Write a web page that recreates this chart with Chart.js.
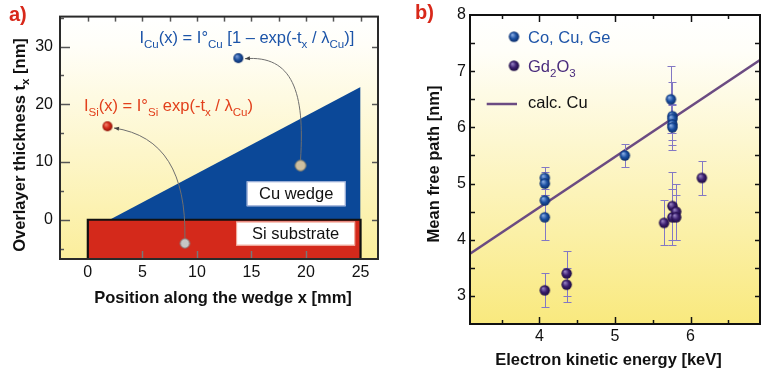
<!DOCTYPE html>
<html><head><meta charset="utf-8">
<script src="https://cdn.jsdelivr.net/npm/chart.js@4"></script>
<style>
html,body{margin:0;padding:0;background:#fff;}
#wrap{position:relative;width:768px;height:374px;overflow:hidden;}
#ca{position:absolute;left:0;top:0;}
#cb{position:absolute;left:384px;top:0;}
</style></head><body>
<div id="wrap"><canvas id="ca" width="384" height="374"></canvas><canvas id="cb" width="384" height="374"></canvas></div>
<script>
// ---------- Panel a data ----------
const wedgeX = [2, 25];          // mm
const wedgeT = [0, 23];          // nm
const substrateX = [0, 25];      // mm
const substrateTop = [0, 0];     // nm
const markerX = [1.8, 13.8, 19.5, 8.9];
const markerT = [16.2, 28.0, 9.4, -4.1];
const ticksXA = [0, 5, 10, 15, 20, 25];
const ticksYA = [0, 10, 20, 30];

// ---------- Panel b data ----------
const energyCu = [4.07, 4.07, 4.07, 4.07, 5.13, 5.74, 5.76, 5.76, 5.76, 5.76];
const mfpCu    = [5.1, 5.0, 4.7, 4.4, 5.5, 6.5, 6.2, 6.15, 6.05, 6.0];
const errCu    = [0.2, 0.2, 0.3, 0.4, 0.2, 0.6, 0.6, 0.25, 0.37, 0.22];
const energyGd = [4.07, 4.36, 4.36, 5.65, 5.76, 5.76, 5.81, 5.81, 6.15];
const mfpGd    = [3.1, 3.4, 3.2, 4.3, 4.6, 4.4, 4.5, 4.4, 5.1];
const errGd    = [0.3, 0.4, 0.3, 0.4, 0.6, 0.5, 0.5, 0.4, 0.3];
const calcE    = [3.08, 6.92];
const calcMfp  = [3.75, 7.2];
const ticksXB = [4, 5, 6];
const ticksYB = [3, 4, 5, 6, 7, 8];

const FONT = '"Liberation Sans", Arial, Helvetica, sans-serif';
const X_MIN_A = -2.55, X_MAX_A = 26.6, Y_MIN_A = -6.8, Y_MAX_A = 35.2;
const X_MIN_B = 3.08, X_MAX_B = 6.92, Y_MIN_B = 2.5, Y_MAX_B = 8;

function sphere(r, light, base, dark, flat) {
  const c = document.createElement('canvas');
  const s = Math.ceil(r * 2 + 2);
  c.width = c.height = s;
  const g = c.getContext('2d');
  const cx = s / 2, cy = s / 2;
  if (flat) {
    g.fillStyle = base; g.beginPath(); g.arc(cx, cy, r - 0.5, 0, Math.PI * 2); g.fill();
    g.strokeStyle = dark; g.lineWidth = 1; g.stroke();
  } else {
    const grd = g.createRadialGradient(cx - r * 0.35, cy - r * 0.4, r * 0.05, cx, cy, r);
    grd.addColorStop(0, light); grd.addColorStop(0.55, base); grd.addColorStop(1, dark);
    g.fillStyle = grd; g.beginPath(); g.arc(cx, cy, r, 0, Math.PI * 2); g.fill();
  }
  return c;
}
const ballBlue = sphere(5.2, '#8fb0e6', '#1d52a3', '#0b2d6a');
const ballPurple = sphere(5.2, '#9a86c6', '#3c2070', '#1c0b40');
const ballRed = sphere(5, '#f08a70', '#d42a1a', '#8a1408');
const ballBlueA = sphere(5, '#7fa0da', '#1c4f9c', '#0b2d6a');
const ballTan = sphere(5.8, '', '#cdbfa0', '#8f8468', true);
const ballGray = sphere(5.2, '', '#c6c6c6', '#7d7d7d', true);

function drawRich(ctx, segs, x, y, size, color, weight, align) {
  const sub = size * 0.7;
  let w = 0;
  const parts = segs.map(([t, m]) => {
    const sz = m ? sub : size;
    ctx.font = `${weight} ${sz}px ${FONT}`;
    const tw = ctx.measureText(t).width;
    w += tw;
    return { t, m, sz, tw };
  });
  let cx = align === 'center' ? x - w / 2 : x;
  ctx.fillStyle = color; ctx.textAlign = 'left'; ctx.textBaseline = 'alphabetic';
  for (const p of parts) {
    ctx.font = `${weight} ${p.sz}px ${FONT}`;
    ctx.fillText(p.t, cx, y + (p.m === 1 ? size * 0.3 : 0));
    cx += p.tw;
  }
}

function bgGradient(chart, bottomColor) {
  const { ctx, chartArea: a } = chart;
  const g = ctx.createLinearGradient(0, a.top, 0, a.bottom);
  g.addColorStop(0, '#ffffff');
  g.addColorStop(0.12, '#fffef8');
  g.addColorStop(1, bottomColor);
  ctx.save(); ctx.fillStyle = g;
  ctx.fillRect(a.left, a.top, a.right - a.left, a.bottom - a.top);
  ctx.restore();
}

function hTicks(ctx, xs, sx, yEdge, len, dir, color, w) {
  ctx.strokeStyle = color; ctx.lineWidth = w || 1.5;
  for (const v of xs) {
    const px = Math.round(sx.getPixelForValue(v)) + 0.5;
    ctx.beginPath(); ctx.moveTo(px, yEdge); ctx.lineTo(px, yEdge + dir * len); ctx.stroke();
  }
}
function vTicks(ctx, ys, sy, xEdge, len, dir, color, w) {
  ctx.strokeStyle = color; ctx.lineWidth = w || 1.5;
  for (const v of ys) {
    const py = Math.round(sy.getPixelForValue(v)) + 0.5;
    ctx.beginPath(); ctx.moveTo(xEdge, py); ctx.lineTo(xEdge + dir * len, py); ctx.stroke();
  }
}

// ---------- Panel a ----------
function arrowCurve(ctx, sx, sy, p0, c1, c2, p3) {
  const P = (p) => [sx.getPixelForValue(p[0]), sy.getPixelForValue(p[1])];
  const a = P(p0), b = P(c1), c = P(c2), d = P(p3);
  ctx.strokeStyle = '#6f6f6f'; ctx.lineWidth = 1;
  ctx.beginPath(); ctx.moveTo(a[0], a[1]); ctx.bezierCurveTo(b[0], b[1], c[0], c[1], d[0], d[1]); ctx.stroke();
  const ang = Math.atan2(d[1] - c[1], d[0] - c[0]);
  const L = 5, H = 2;
  ctx.fillStyle = '#444';
  ctx.beginPath();
  ctx.moveTo(d[0], d[1]);
  ctx.lineTo(d[0] - L * Math.cos(ang) + H * Math.sin(ang), d[1] - L * Math.sin(ang) - H * Math.cos(ang));
  ctx.lineTo(d[0] - L * Math.cos(ang) - H * Math.sin(ang), d[1] - L * Math.sin(ang) + H * Math.cos(ang));
  ctx.closePath(); ctx.fill();
}

const panelA = {
  id: 'panelA',
  beforeDraw(chart) { bgGradient(chart, '#fbee9c'); },
  afterDatasetDraw(chart, args) {
    if (args.index !== 1) return;
    const { ctx, scales: { x, y } } = chart;
    ctx.save();
    arrowCurve(ctx, x, y, [markerX[3], markerT[3] + 0.9], [9.0, 8.0], [7.0, 14.6], [markerX[0] + 0.6, markerT[0] - 0.3]);
    arrowCurve(ctx, x, y, [markerX[2], markerT[2] + 1.0], [19.9, 22], [18.8, 28.6], [markerX[1] + 0.6, markerT[1] - 0.1]);
    ctx.restore();
  },
  afterDraw(chart) {
    const { ctx, chartArea: a, scales: { x, y } } = chart;
    ctx.save();
    // label boxes
    const box = (cxv, cyv, w, h, txt, edge) => {
      const cx = x.getPixelForValue(cxv), cy = y.getPixelForValue(cyv);
      ctx.fillStyle = '#ffffff';
      ctx.fillRect(cx - w / 2, cy - h / 2, w, h);
      if (edge) { ctx.strokeStyle = edge; ctx.lineWidth = 1; ctx.strokeRect(cx - w / 2 + 0.5, cy - h / 2 + 0.5, w - 1, h - 1); }
      ctx.fillStyle = '#111'; ctx.font = `16.5px ${FONT}`; ctx.textAlign = 'center'; ctx.textBaseline = 'middle';
      ctx.fillText(txt, cx, cy + 1);
    };
    box(19.1, 4.5, 99, 25, 'Cu wedge', '#8aa0d0');
    box(19.05, -2.4, 119, 24, 'Si substrate', '#f0a090');
    // equations
    drawRich(ctx, [['I', 0], ['Cu', 1], ['(x) = I°', 0], ['Cu', 1], [' [1 – exp(-t', 0], ['x', 1], [' / λ', 0], ['Cu', 1], [')]', 0]],
      x.getPixelForValue(4.73), y.getPixelForValue(30.55), 16.5, '#1c54a8', 'normal', 'left');
    drawRich(ctx, [['I', 0], ['Si', 1], ['(x) = I°', 0], ['Si', 1], [' exp(-t', 0], ['x', 1], [' / λ', 0], ['Cu', 1], [')', 0]],
      x.getPixelForValue(-0.36), y.getPixelForValue(18.77), 16.5, '#e2401c', 'normal', 'left');
    // ticks
    const minorY = ticksYA.map(v => v - 5).concat([ticksYA[ticksYA.length - 1] + 5]);
    vTicks(ctx, ticksYA, y, a.left, 10, 1, '#555');
    vTicks(ctx, minorY.filter(v => v > Y_MIN_A && v < Y_MAX_A), y, a.left, 4, 1, '#555');
    vTicks(ctx, ticksYA, y, a.right, 6, -1, '#555');
    const topT = [];
    for (const v of ticksXA) { topT.push(v); topT.push(v + 2.5); }
    hTicks(ctx, topT.filter(v => v < X_MAX_A), x, a.top, 5, 1, '#555');
    hTicks(ctx, ticksXA.slice(1, -1), x, a.bottom, 8, -1, '#777');
    // frame
    ctx.strokeStyle = '#2a2a2a'; ctx.lineWidth = 2;
    ctx.strokeRect(a.left, a.top, a.right - a.left, a.bottom - a.top);
    // titles
    drawRich(ctx, [['Position along the wedge x [mm]', 0]], 223, 302.7, 16.5, '#111', 'bold', 'center');
    ctx.save();
    ctx.translate(24.5, 145); ctx.rotate(-Math.PI / 2);
    drawRich(ctx, [['Overlayer thickness t', 0], ['x', 1], [' [nm]', 0]], 0, 0, 16.5, '#111', 'bold', 'center');
    ctx.restore();
    ctx.fillStyle = '#d8281a'; ctx.font = `bold 20px ${FONT}`; ctx.textAlign = 'left'; ctx.textBaseline = 'alphabetic';
    ctx.fillText('a)', 9, 21);
    ctx.restore();
  }
};

new Chart(document.getElementById('ca'), {
  type: 'line',
  data: {
    datasets: [
      {
        type: 'scatter',
        data: markerX.map((v, i) => ({ x: v, y: markerT[i] })),
        pointStyle: [ballRed, ballBlueA, ballTan, ballGray],
        pointRadius: 5, showLine: false
      },
      {
        data: [{ x: substrateX[0], y: Y_MIN_A }, { x: substrateX[0], y: substrateTop[0] },
               { x: substrateX[1], y: substrateTop[1] }, { x: substrateX[1], y: Y_MIN_A }],
        borderColor: '#111', borderWidth: 2.2, backgroundColor: '#d4291b',
        fill: 'start', pointRadius: 0, tension: 0
      },
      {
        data: wedgeX.map((v, i) => ({ x: v, y: wedgeT[i] })),
        borderWidth: 0, borderColor: 'rgba(0,0,0,0)', backgroundColor: '#0b4898',
        fill: { value: 0 }, pointRadius: 0, tension: 0
      }
    ]
  },
  options: {
    responsive: false, animation: false, events: [],
    layout: { padding: { top: 13, right: 3, left: 0, bottom: 0 } },
    plugins: { legend: { display: false }, tooltip: { enabled: false } },
    scales: {
      x: {
        type: 'linear', min: X_MIN_A, max: X_MAX_A,
        grid: { display: false, drawTicks: false }, border: { display: false },
        afterBuildTicks: s => { s.ticks = ticksXA.map(v => ({ value: v })); },
        afterFit: s => { s.height = 115; },
        ticks: { font: { family: FONT, size: 16 }, color: '#111', padding: 4, maxRotation: 0, autoSkip: false }
      },
      y: {
        type: 'linear', min: Y_MIN_A, max: Y_MAX_A,
        grid: { display: false, drawTicks: false }, border: { display: false },
        afterBuildTicks: s => { s.ticks = ticksYA.map(v => ({ value: v })); },
        afterFit: s => { s.width = 60; },
        ticks: { font: { family: FONT, size: 16 }, color: '#111', padding: 7 }
      }
    }
  },
  plugins: [panelA]
});

// ---------- Panel b ----------
const panelB = {
  id: 'panelB',
  beforeDraw(chart) { bgGradient(chart, '#f9e97e'); },
  afterDatasetDraw(chart, args) {
    if (args.index !== 2) return;
    const { ctx, scales: { x, y } } = chart;
    ctx.save();
    ctx.strokeStyle = '#8378c4'; ctx.lineWidth = 1;
    const bars = (es, ms, errs) => {
      es.forEach((e, i) => {
        const px = Math.round(x.getPixelForValue(e)) + 0.5;
        const top = Math.round(y.getPixelForValue(ms[i] + errs[i])) + 0.5;
        const bot = Math.round(y.getPixelForValue(ms[i] - errs[i])) + 0.5;
        ctx.beginPath();
        ctx.moveTo(px, top); ctx.lineTo(px, bot);
        ctx.moveTo(px - 4, top); ctx.lineTo(px + 4, top);
        ctx.moveTo(px - 4, bot); ctx.lineTo(px + 4, bot);
        ctx.stroke();
      });
    };
    bars(energyCu, mfpCu, errCu);
    bars(energyGd, mfpGd, errGd);
    ctx.restore();
  },
  afterDraw(chart) {
    const { ctx, chartArea: a, scales: { x, y } } = chart;
    ctx.save();
    // ticks
    const minorX = [];
    for (let v = Math.ceil(X_MIN_B * 2) / 2; v < X_MAX_B; v += 0.5) if (!ticksXB.includes(v)) minorX.push(v);
    hTicks(ctx, ticksXB, x, a.bottom, 7, -1, '#111');
    hTicks(ctx, minorX, x, a.bottom, 4, -1, '#111');
    hTicks(ctx, ticksXB, x, a.top, 7, 1, '#111');
    hTicks(ctx, minorX, x, a.top, 4, 1, '#111');
    const allY = [];
    for (let v = Y_MIN_B + 0.5; v < Y_MAX_B; v += 0.5) allY.push(v);
    vTicks(ctx, allY, y, a.left, 5, 1, '#111');
    vTicks(ctx, allY, y, a.right, 5, -1, '#111');
    // frame
    ctx.strokeStyle = '#111'; ctx.lineWidth = 2;
    ctx.strokeRect(a.left, a.top, a.right - a.left, a.bottom - a.top);
    // legend
    const lx = 130;
    ctx.drawImage(ballBlue, lx - ballBlue.width / 2, 36.7 - ballBlue.height / 2);
    drawRich(ctx, [['Co, Cu, Ge', 0]], 144, 43.2, 16.5, '#1f55a8', 'normal', 'left');
    ctx.drawImage(ballPurple, lx - ballPurple.width / 2, 65.7 - ballPurple.height / 2);
    drawRich(ctx, [['Gd', 0], ['2', 1], ['O', 0], ['3', 1]], 144, 71.7, 16.5, '#4a2c7d', 'normal', 'left');
    ctx.strokeStyle = '#6b4b82'; ctx.lineWidth = 2.5;
    ctx.beginPath(); ctx.moveTo(102.7, 104); ctx.lineTo(133, 104); ctx.stroke();
    drawRich(ctx, [['calc. Cu', 0]], 144, 108.3, 16.5, '#111', 'normal', 'left');
    // titles
    drawRich(ctx, [['Electron kinetic energy [keV]', 0]], 224.5, 365.3, 16.5, '#111', 'bold', 'center');
    ctx.save();
    ctx.translate(55, 164); ctx.rotate(-Math.PI / 2);
    drawRich(ctx, [['Mean free path [nm]', 0]], 0, 0, 16.5, '#111', 'bold', 'center');
    ctx.restore();
    ctx.fillStyle = '#d8281a'; ctx.font = `bold 20px ${FONT}`; ctx.textAlign = 'left'; ctx.textBaseline = 'alphabetic';
    ctx.fillText('b)', 31, 19);
    ctx.restore();
  }
};

new Chart(document.getElementById('cb'), {
  type: 'scatter',
  data: {
    datasets: [
      { label: 'Co, Cu, Ge', data: energyCu.map((v, i) => ({ x: v, y: mfpCu[i] })), pointStyle: ballBlue, pointRadius: 5 },
      { label: 'Gd2O3', data: energyGd.map((v, i) => ({ x: v, y: mfpGd[i] })), pointStyle: ballPurple, pointRadius: 5 },
      { type: 'line', label: 'calc. Cu', data: calcE.map((v, i) => ({ x: v, y: calcMfp[i] })),
        borderColor: '#6b4b82', borderWidth: 2.5, pointRadius: 0, fill: false, tension: 0 }
    ]
  },
  options: {
    responsive: false, animation: false, events: [],
    layout: { padding: { top: 15, right: 8, left: 0, bottom: 0 } },
    plugins: { legend: { display: false }, tooltip: { enabled: false } },
    scales: {
      x: {
        type: 'linear', min: X_MIN_B, max: X_MAX_B,
        grid: { display: false, drawTicks: false }, border: { display: false },
        afterBuildTicks: s => { s.ticks = ticksXB.map(v => ({ value: v })); },
        afterFit: s => { s.height = 50; },
        ticks: { font: { family: FONT, size: 16 }, color: '#111', padding: 3, maxRotation: 0, autoSkip: false }
      },
      y: {
        type: 'linear', min: Y_MIN_B, max: Y_MAX_B,
        grid: { display: false, drawTicks: false }, border: { display: false },
        afterBuildTicks: s => { s.ticks = ticksYB.map(v => ({ value: v })); },
        afterFit: s => { s.width = 86; },
        ticks: { font: { family: FONT, size: 16 }, color: '#111', padding: 4 }
      }
    }
  },
  plugins: [panelB]
});
</script>
</body></html>
